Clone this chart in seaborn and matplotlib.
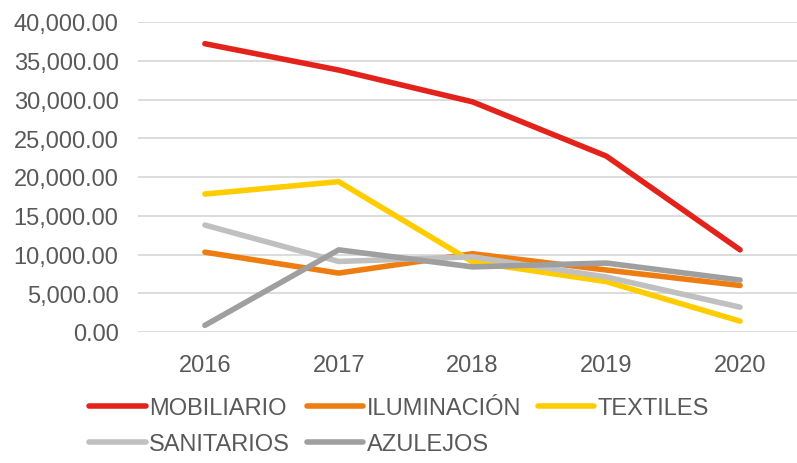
import pandas as pd
import matplotlib.pyplot as plt
import seaborn as sns
from matplotlib.ticker import FuncFormatter

# Datos por categoría y año
anios = ["2016", "2017", "2018", "2019", "2020"]
mobiliario = [37200, 33800, 29700, 22700, 10600]
iluminacion = [10300, 7600, 10100, 8000, 6000]
textiles = [17800, 19400, 9050, 6500, 1400]
sanitarios = [13800, 9100, 9700, 7100, 3200]
azulejos = [860, 10600, 8400, 8900, 6700]

series = ["MOBILIARIO", "ILUMINACIÓN", "TEXTILES", "SANITARIOS", "AZULEJOS"]
colores = ["#E3231B", "#EE7D11", "#FFCC00", "#C0C0C0", "#A09FA0"]

df = pd.DataFrame({
    "Año": anios * 5,
    "Valor": mobiliario + iluminacion + textiles + sanitarios + azulejos,
    "Serie": [s for s in series for _ in anios],
})

sns.set_style("white")
plt.rcParams["font.family"] = ["Liberation Sans", "DejaVu Sans"]

fig = plt.figure(figsize=(7.97, 4.64), dpi=100)
ax = fig.add_axes([138 / 797, 1 - 333 / 464, 669 / 797, 310 / 464])

sns.lineplot(data=df, x="Año", y="Valor", hue="Serie", palette=colores,
             linewidth=4, ax=ax, legend=False, sort=False)

ax.set_xlim(-0.5, 4.5)
ax.set_ylim(0, 40000)
ax.set_yticks(range(0, 40001, 5000))
ax.yaxis.set_major_formatter(FuncFormatter(lambda v, p: f"{v:,.2f}"))
ax.grid(axis="y", color="#D9D9D9", linewidth=1.3)
ax.set_axisbelow(True)
for s in ax.spines.values():
    s.set_visible(False)
ax.tick_params(axis="both", length=0, labelsize=17, labelcolor="#595959")
ax.tick_params(axis="x", pad=16)
ax.tick_params(axis="y", pad=14)
ax.set_xlabel("")
ax.set_ylabel("")

# leyenda por filas (matplotlib rellena por columnas)
orden = [0, 3, 1, 4, 2]
handles = [plt.Line2D([], [], color=colores[i], linewidth=4, solid_capstyle="round") for i in orden]
etiquetas = [series[i] for i in orden]
fig.legend(handles, etiquetas, ncol=3, loc="upper left", bbox_to_anchor=(89 / 797, 1 - 398 / 464),
           frameon=False, fontsize=17, labelcolor="#595959", handlelength=2.4,
           handletextpad=0.15, columnspacing=0.7, labelspacing=0.6,
           borderpad=0, borderaxespad=0)

fig.savefig("out.png", dpi=100)
